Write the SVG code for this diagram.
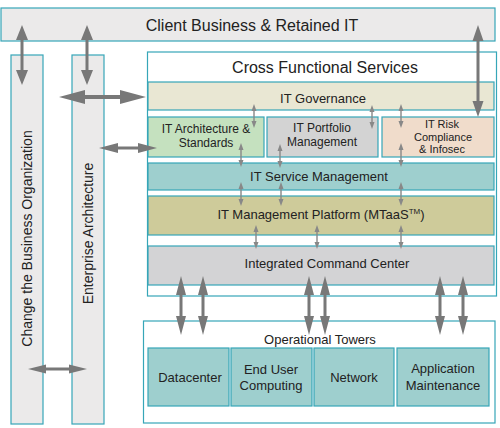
<svg xmlns="http://www.w3.org/2000/svg" xmlns:xlink="http://www.w3.org/1999/xlink" width="500" height="428" viewBox="0 0 500 428">
<style>
rect{stroke:#36a6b8;stroke-width:1.2}
.g{fill:#ebeaea}
.w{fill:#ffffff}
.gov{fill:#e9e7d3}
.arch{fill:#c5e1bf}
.port{fill:#d3d3d3}
.risk{fill:#f0dccb}
.tl{fill:#9ecfce}
.kh{fill:#cecb9a}
.icc{fill:#d3d3d5}
text{font-family:"Liberation Sans",Arial,Helvetica,sans-serif;fill:#222;text-anchor:middle}
.t16{font-size:16px}
.t14{font-size:14px}
.t13{font-size:13px}
.t12{font-size:12px}
.t11{font-size:11px}
.arr{fill:#787878}
.sarr{fill:#888888}
</style>
<defs>
<path id="bv" d="M0,276 L5,295 L1.5,295 L1.5,316 L5,316 L0,335 L-5,316 L-1.5,316 L-1.5,295 L-5,295 Z"/>
<path id="sv" d="M0,0 L2.5,7 L0.7,7 L0.7,17 L2.5,17 L0,24 L-2.5,17 L-0.7,17 L-0.7,7 L-2.5,7 Z"/>
</defs>
<g id="client"><rect class="g" x="1" y="8" width="494" height="33"/><text class="t16" x="252" y="31">Client Business &amp; Retained IT</text></g>
<g id="change"><rect class="g" x="11" y="55" width="32" height="369"/><text class="t14" transform="translate(32,238.5) rotate(-90)">Change the Business Organization</text></g>
<g id="enterprise"><rect class="g" x="72" y="55" width="32" height="369"/><text class="t14" transform="translate(93,233.5) rotate(-90)">Enterprise Architecture</text></g>
<g id="cfs"><rect class="w" x="147.5" y="52" width="349" height="244"/><text class="t16" x="325" y="73">Cross Functional Services</text></g>
<g id="governance"><rect class="gov" x="148" y="82" width="346" height="28"/><text class="t13" x="323" y="103">IT Governance</text></g>
<g id="architecture"><rect class="arch" x="148" y="117" width="116" height="40"/><text class="t12" x="206" y="133">IT Architecture &amp;</text><text class="t12" x="206" y="147">Standards</text></g>
<g id="portfolio"><rect class="port" x="267" y="117" width="111" height="40"/><text class="t12" x="322" y="132">IT Portfolio</text><text class="t12" x="322" y="146">Management</text></g>
<g id="risk"><rect class="risk" x="382" y="117" width="112" height="40"/><text class="t11" x="442" y="128">IT Risk</text><text class="t11" x="443" y="140.7">Compliance</text><text class="t11" x="442" y="153.4">&amp; Infosec</text></g>
<g id="itsm"><rect class="tl" x="148" y="163" width="346" height="27"/><text class="t13" x="319" y="181">IT Service Management</text></g>
<g id="itmp"><rect class="kh" x="148" y="196" width="346" height="39"/><text class="t13" x="321" y="219">IT Management Platform (MTaaS<tspan font-size="8" dy="-5">TM</tspan><tspan dy="5">)</tspan></text></g>
<g id="icc"><rect class="icc" x="148" y="246" width="346" height="39"/><text class="t13" x="327" y="268">Integrated Command Center</text></g>
<g id="towers"><rect class="w" x="143.5" y="321" width="351.5" height="102"/><text class="t13" x="320" y="344">Operational Towers</text></g>
<g id="datacenter"><rect class="tl" x="148" y="348" width="81" height="58"/><text class="t13" x="190" y="382">Datacenter</text></g>
<g id="euc"><rect class="tl" x="231" y="348" width="81" height="58"/><text class="t13" x="271" y="374">End User</text><text class="t13" x="271" y="390">Computing</text></g>
<g id="network"><rect class="tl" x="314" y="348" width="80" height="58"/><text class="t13" x="354" y="382">Network</text></g>
<g id="appmaint"><rect class="tl" x="397" y="348" width="92" height="58"/><text class="t13" x="443" y="373">Application</text><text class="t13" x="443" y="390">Maintenance</text></g>
<g id="connectors">
<path class="arr" d="M22,25 L28,40 L23.5,40 L23.5,70 L28,70 L22,85 L16,70 L20.5,70 L20.5,40 L16,40 Z"/>
<path class="arr" d="M87,25 L93,40 L88.5,40 L88.5,70 L93,70 L87,85 L81,70 L85.5,70 L85.5,40 L81,40 Z"/>
<path class="arr" d="M478,25 L483.5,41 L479.5,41 L479.5,101 L483.5,101 L478,117 L472.5,101 L476.5,101 L476.5,41 L472.5,41 Z"/>
<path class="arr" d="M59,97 L85,90 L85,95 L120,95 L120,90 L146,97 L120,104 L120,99 L85,99 L85,104 Z"/>
<path class="arr" d="M99,148 L118,143 L118,146.5 L138,146.5 L138,143 L157,148 L138,153 L138,149.5 L118,149.5 L118,153 Z"/>
<path class="arr" d="M28,369 L46,364.5 L46,367.5 L69,367.5 L69,364.5 L87,369 L69,373.5 L69,370.5 L46,370.5 L46,373.5 Z"/>
<use class="arr" xlink:href="#bv" x="181"/>
<use class="arr" xlink:href="#bv" x="203"/>
<use class="arr" xlink:href="#bv" x="309"/>
<use class="arr" xlink:href="#bv" x="325"/>
<use class="arr" xlink:href="#bv" x="440"/>
<use class="arr" xlink:href="#bv" x="463"/>
<use class="sarr" xlink:href="#sv" x="254" y="104"/>
<use class="sarr" xlink:href="#sv" x="372" y="105"/>
<use class="sarr" xlink:href="#sv" x="401" y="104"/>
<use class="sarr" xlink:href="#sv" x="241" y="143"/>
<use class="sarr" xlink:href="#sv" x="280" y="144"/>
<use class="sarr" xlink:href="#sv" x="401" y="143"/>
<use class="sarr" xlink:href="#sv" x="241" y="182"/>
<use class="sarr" xlink:href="#sv" x="281" y="182"/>
<use class="sarr" xlink:href="#sv" x="401" y="182"/>
<use class="sarr" xlink:href="#sv" x="256" y="225"/>
<use class="sarr" xlink:href="#sv" x="317" y="225"/>
<use class="sarr" xlink:href="#sv" x="401" y="225"/>
</g>
</svg>
